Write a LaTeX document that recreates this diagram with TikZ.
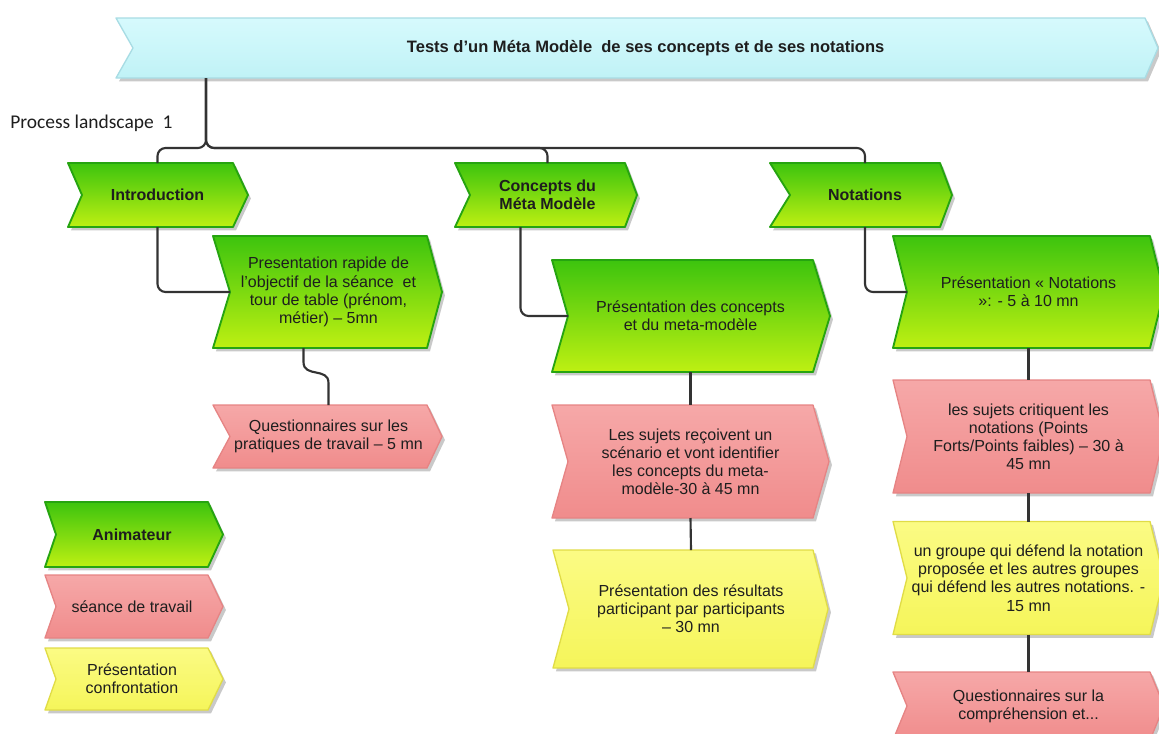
\documentclass[tikz,border=0pt]{standalone}
\usepackage{fontspec}
\setmainfont{Liberation Sans}
\newfontfamily\carl{Carlito}
\usetikzlibrary{calc,shadows,backgrounds}
\definecolor{gtop}{HTML}{3DC40E}
\definecolor{gmid}{HTML}{84DA1E}
\definecolor{gbot}{HTML}{BEF012}
\definecolor{gedge}{HTML}{26A410}
\definecolor{rtop}{HTML}{F6A8A8}
\definecolor{rbot}{HTML}{F08C8C}
\definecolor{redge}{HTML}{E68484}
\definecolor{ytop}{HTML}{FBFB84}
\definecolor{ybot}{HTML}{F5F55A}
\definecolor{yedge}{HTML}{E0DC46}
\definecolor{ctop}{HTML}{D6FAFD}
\definecolor{cbot}{HTML}{C0F2F6}
\definecolor{cedge}{HTML}{A8DCE4}
\definecolor{txt}{HTML}{1E1E1E}
\definecolor{line}{HTML}{333333}
\newcommand\chev[4]{%
  \path[#4] ($(#1.north west)+(-#2,0)$) -- (#1.north east) -- ($(#1.east)+(#3,0)$)
    -- (#1.south east) -- ($(#1.south west)+(-#2,0)$) -- (#1.west) -- cycle;}
\tikzset{
  bw/.style={minimum width=#1*0.75pt},
  bh/.style={minimum height=#1*0.75pt},
  bx/.style={inner sep=0pt, outer sep=0pt, align=center, text=txt,
    font=\fontsize{12}{13.6}\selectfont},
  bxb/.style={bx, font=\fontsize{12}{13.6}\selectfont\bfseries},
  shd/.style={drop shadow={shadow xshift=2.2pt, shadow yshift=-2.6pt, opacity=.3, fill=black!70}},
  gsh/.style={shd, top color=gtop, middle color=gmid, bottom color=gbot, draw=gedge, line width=1.4pt, line join=round},
  rsh/.style={shd, top color=rtop, bottom color=rbot, draw=redge, line width=1pt, line join=round},
  ysh/.style={shd, top color=ytop, bottom color=ybot, draw=yedge, line width=1pt, line join=round},
  csh/.style={shd, top color=ctop, bottom color=cbot, draw=cedge, line width=1pt, line join=round},
  conn/.style={draw=line, line width=1.6pt, rounded corners=6pt},
}
\begin{document}
\begin{tikzpicture}[x=0.75pt,y=-0.75pt]
\useasboundingbox (0,0) rectangle (1159,733);
% nodes
\node[bxb, bw=1012, bh=60, font=\fontsize{12.4}{14}\selectfont\bfseries] (title) at (639,48) {\hspace*{10pt}Tests d’un Méta Modèle~ de ses concepts et de ses notations};
\node[anchor=base west, inner sep=0pt, font=\carl\fontsize{14.6}{16}\selectfont, text=txt] (pl) at (10,128) {Process landscape~ 1};
\node[bxb, bw=151, bh=64] (intro) at (157.5,195) {Introduction};
\node[bxb, bw=155, bh=64] (cmm) at (547.5,195) {Concepts du\\Méta Modèle};
\node[bxb, bw=150, bh=64] (nota) at (865,195) {Notations};
\node[bx, bw=197, bh=112] (pr) at (328.5,292) {Presentation rapide de\\l'objectif de la séance~ et\\tour de table (prénom,\\métier) – 5mn};
\node[bx, bw=197, bh=63] (qp) at (328.5,436.5) {Questionnaires sur les\\pratiques de travail – 5 mn};
\node[bx, bw=245, bh=112] (pc) at (690.5,316) {Présentation des concepts\\et du meta-modèle};
\node[bx, bw=245, bh=113] (ls) at (690.5,461.5) {Les sujets reçoivent un\\scénario et vont identifier\\les concepts du meta-\\modèle-30 à 45 mn};
\node[bx, bw=244, bh=118] (pres) at (691,609) {Présentation des résultats\\participant par participants\\– 30 mn};
\node[bx, bw=243, bh=112] (pn) at (1028.5,292) {Présentation « Notations\\»: - 5 à 10 mn};
\node[bx, bw=243, bh=113] (lc) at (1028.5,436.5) {les sujets critiquent les\\notations (Points\\Forts/Points faibles) – 30 à\\45 mn};
\node[bx, bw=243, bh=113] (ug) at (1028.5,578) {un groupe qui défend la notation\\proposée et les autres groupes\\qui défend les autres notations. -\\15 mn};
\node[bx, bw=243, bh=68] (qc) at (1028.5,706) {Questionnaires sur la\\compréhension et...};
\node[bxb, bw=152, bh=65] (anim) at (132,534.5) {Animateur};
\node[bx, bw=152, bh=63] (sea) at (132,606.5) {séance de travail};
\node[bx, bw=152, bh=62] (conf) at (132,679) {Présentation\\confrontation};
% shapes
\begin{pgfonlayer}{background}
\clip (0,0) rectangle (1159,733);
\chev{title}{17}{13}{csh}
\chev{intro}{14}{15}{gsh}
\chev{cmm}{15}{12}{gsh}
\chev{nota}{20}{12}{gsh}
\chev{pr}{17}{15}{gsh}
\chev{qp}{17}{15}{rsh}
\chev{pc}{16}{17}{gsh}
\chev{ls}{16}{16}{rsh}
\chev{pres}{16}{15}{ysh}
\chev{pn}{14}{14}{gsh}
\chev{lc}{14}{14}{rsh}
\chev{ug}{14}{14}{ysh}
\chev{qc}{14}{14}{rsh}
\chev{anim}{11}{15}{gsh}
\chev{sea}{11}{15}{rsh}
\chev{conf}{11}{15}{ysh}
\end{pgfonlayer}
% connectors
\coordinate (tt) at ($(title.south west)+(73,0)$);
\coordinate (jn) at ($(tt)+(0,70)$);
\draw[conn] (tt) -- (jn) -| (intro.north);
\draw[conn] (tt) -- (jn) -| (cmm.north);
\draw[conn] (tt) -- (jn) -| (nota.north);
\draw[conn] (intro.south) |- (pr.west);
\coordinate (cd) at ($(cmm.south)+(-27,0)$);
\draw[conn] (cd) |- (pc.west);
\draw[conn] (nota.south) |- (pn.west);
\coordinate (pa) at ($(pr.south)+(-25,0)$);
\draw[draw=line, line width=1.6pt] (pa) -- ++(0,14) .. controls +(0,16) and +(0,-16) .. ($(qp.north)+(0,-22)$) -- (qp.north);
\draw[conn] (pc.south) -- (ls.north);
\draw[conn] (ls.south) -- (pres.north);
\draw[conn] (pn.south) -- (lc.north);
\draw[conn] (lc.south) -- (ug.north);
\draw[conn] (ug.south) -- (qc.north);
\end{tikzpicture}
\end{document}
